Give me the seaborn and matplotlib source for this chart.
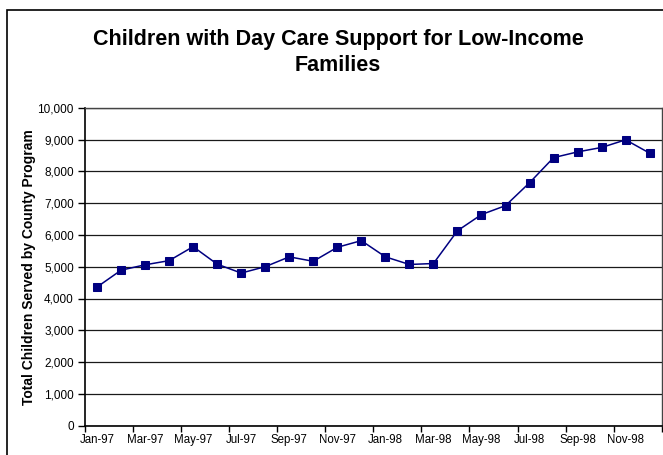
import matplotlib.pyplot as plt
import seaborn as sns
import pandas as pd
from matplotlib.patches import Rectangle
from matplotlib.ticker import FuncFormatter, FixedLocator

# Monthly counts
months = ['Jan-97', 'Feb-97', 'Mar-97', 'Apr-97', 'May-97', 'Jun-97',
          'Jul-97', 'Aug-97', 'Sep-97', 'Oct-97', 'Nov-97', 'Dec-97',
          'Jan-98', 'Feb-98', 'Mar-98', 'Apr-98', 'May-98', 'Jun-98',
          'Jul-98', 'Aug-98', 'Sep-98', 'Oct-98', 'Nov-98', 'Dec-98']
children = [4360, 4890, 5060, 5190, 5630, 5080, 4800, 5000, 5310, 5170, 5610, 5820,
            5310, 5070, 5100, 6130, 6640, 6920, 7640, 8430, 8610, 8750, 8990, 8570]

df = pd.DataFrame({'Month': months, 'Children': children})
df['pos'] = range(len(df))

sns.set_theme(style='white')
plt.rcParams['font.family'] = ['Liberation Sans', 'DejaVu Sans']
plt.rcParams.update({'text.color': 'black', 'axes.labelcolor': 'black',
                     'xtick.color': 'black', 'ytick.color': 'black'})

W, H = 663, 455
fig = plt.figure(figsize=(W / 100, H / 100), dpi=100)
ax = fig.add_axes([85 / W, (H - 425.7) / H, (661.7 - 85) / W, (425.7 - 107.7) / H])

# horizontal gridlines drawn first so the line sits on top
for v in range(0, 10001, 1000):
    ax.axhline(v, color='#1a1a1a', lw=0.9, zorder=1)

sns.lineplot(data=df, x='pos', y='Children', sort=False, color='#000080',
             marker='s', markersize=5.5, markeredgecolor='#000080',
             linewidth=1.1, ax=ax, zorder=3)

ax.set_xlim(-0.5, len(months) - 0.5)
ax.set_ylim(0, 10000)
ax.set_yticks(range(0, 10001, 1000))
ax.yaxis.set_major_formatter(FuncFormatter(lambda v, p: f'{v:,.0f}'))

# labels on every other month, tick marks on category boundaries
ax.set_xticks(df['pos'][::2])
ax.set_xticklabels(df['Month'][::2])
ax.xaxis.set_minor_locator(FixedLocator([p - 0.5 for p in df['pos'][::2]] + [len(months) - 0.5]))
ax.tick_params(axis='x', which='major', length=0, labelsize=8.3, pad=6)
ax.tick_params(axis='x', which='minor', length=4, width=1, direction='out', color='black', bottom=True)
ax.tick_params(axis='y', length=5, width=1, direction='out', labelsize=8.5, pad=3, left=True)

ax.set_xlabel('')
ax.set_ylabel('Total Children Served by County Program', fontsize=10, fontweight='bold')
ax.yaxis.set_label_coords((36 - 85) / (661.7 - 85), 0.5)

for side in ['left', 'bottom']:
    ax.spines[side].set_color('black')
    ax.spines[side].set_linewidth(1.2)
for side in ['top', 'right']:
    ax.spines[side].set_color('#444444')
    ax.spines[side].set_linewidth(1.0)

fig.text(338 / W, 1 - 29 / H, 'Children with Day Care Support for Low-Income\nFamilies',
         ha='center', va='top', fontsize=15.5, fontweight='bold', linespacing=1.3)

# chart area border (cut off on right and bottom like the reference)
fig.add_artist(Rectangle((7 / W, -0.1), 2, 1.1 - 10 / H, transform=fig.transFigure,
                         fill=False, edgecolor='black', lw=1.2))

fig.savefig('out.png', dpi=100)
